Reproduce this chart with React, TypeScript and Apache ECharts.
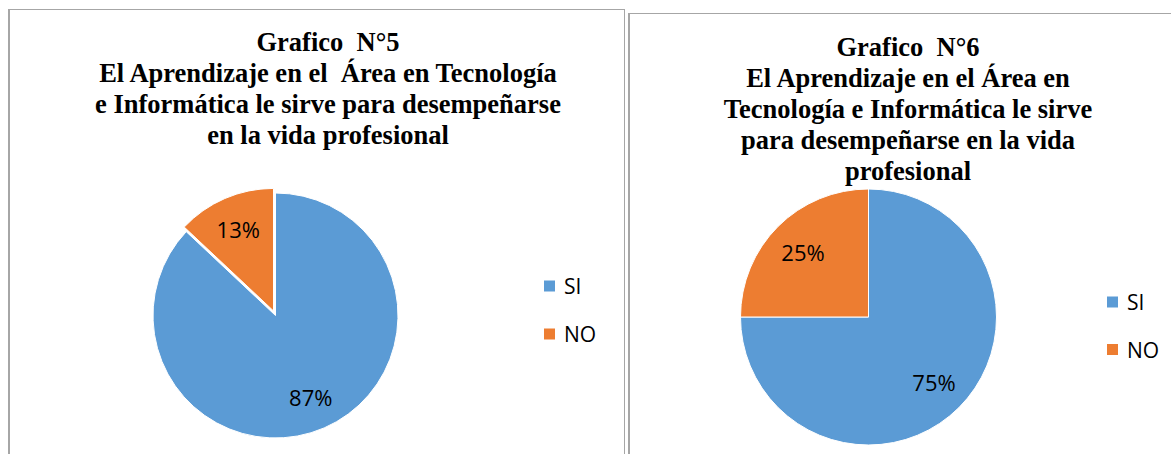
import React, { useEffect, useRef } from "react";
import * as echarts from "echarts";

const categories = ["SI", "NO"];
const chart5Values = [87, 13];
const chart6Values = [75, 25];
const title5 = "Grafico  N°5\nEl Aprendizaje en el  Área en Tecnología\ne Informática le sirve para desempeñarse\nen la vida profesional";
const title6 = "Grafico  N°6\nEl Aprendizaje en el Área en\nTecnología e Informática le sirve\npara desempeñarse en la vida\nprofesional";

const colors = ["#5B9BD5", "#ED7D31"];
const border = "#a6a6a6";

function buildData(values: number[], explodeNo: boolean) {
  return categories.map((name, i) => ({
    name,
    value: values[i],
    selected: explodeNo && name === "NO",
    itemStyle: { color: colors[i] },
  }));
}

function pieSeries(values: number[], center: number[], r: number, explodeNo: boolean) {
  return [
    {
      type: "pie",
      center,
      radius: r,
      startAngle: 90,
      clockwise: true,
      selectedMode: "multiple",
      selectedOffset: 5,
      silent: true,
      label: { show: false },
      labelLine: { show: false },
      itemStyle: { borderColor: "#ffffff", borderWidth: 1 },
      emphasis: { disabled: true },
      data: buildData(values, explodeNo),
    },
    {
      type: "pie",
      center,
      radius: [r * 0.4, r],
      startAngle: 90,
      clockwise: true,
      selectedMode: "multiple",
      selectedOffset: 5,
      silent: true,
      itemStyle: { color: "rgba(0,0,0,0)", borderWidth: 0 },
      labelLine: { show: false },
      label: {
        show: true,
        position: "inside",
        formatter: "{c}%",
        fontFamily: "Open Sans",
        fontSize: 22,
        color: "#000000",
      },
      emphasis: { disabled: true },
      data: categories.map((name, i) => ({
        name,
        value: values[i],
        selected: explodeNo && name === "NO",
        itemStyle: { color: "rgba(0,0,0,0)" },
      })),
    },
  ];
}

export default function App() {
  const ref = useRef<HTMLDivElement>(null);
  useEffect(() => {
    if (!ref.current) return;
    const chart = echarts.init(ref.current, null, { renderer: "svg" });
    const titleStyle = {
      fontFamily: "Liberation Serif",
      fontWeight: "bold" as const,
      fontSize: 26.5,
      lineHeight: 31,
      color: "#000000",
    };
    const legendCommon = {
      orient: "vertical" as const,
      icon: "rect",
      itemWidth: 13,
      itemHeight: 13,
      padding: 0,
      selectedMode: false,
      textStyle: {
        fontFamily: "Open Sans",
        fontSize: 21,
        color: "#000000",
        lineHeight: 22,
        padding: [0, 0, 0, 3],
      },
      data: categories,
    };
    chart.setOption({
      animation: false,
      backgroundColor: "#ffffff",
      title: [
        { text: title5, left: 328, top: 26, textAlign: "center", padding: 0, textStyle: titleStyle },
        { text: title6, left: 908, top: 31, textAlign: "center", padding: 0, textStyle: titleStyle },
      ],
      legend: [
        { ...legendCommon, left: 542, top: 275, itemGap: 26 },
        { ...legendCommon, left: 1105, top: 291, itemGap: 25.5 },
      ],
      graphic: [
        { type: "line", shape: { x1: 9, y1: 9, x2: 9, y2: 460 }, style: { stroke: border, lineWidth: 2 } },
        { type: "line", shape: { x1: 8, y1: 9.5, x2: 624.5, y2: 9.5 }, style: { stroke: border, lineWidth: 1 } },
        { type: "line", shape: { x1: 624.5, y1: 9, x2: 624.5, y2: 460 }, style: { stroke: border, lineWidth: 1 } },
        { type: "line", shape: { x1: 629, y1: 13, x2: 629, y2: 460 }, style: { stroke: border, lineWidth: 2 } },
        { type: "line", shape: { x1: 628, y1: 13.5, x2: 1175, y2: 13.5 }, style: { stroke: border, lineWidth: 1 } },
      ],
      series: [
        ...pieSeries(chart5Values, [275.5, 315.5], 122.5, true),
        ...pieSeries(chart6Values, [868.5, 317], 128, false),
      ],
    });
    return () => chart.dispose();
  }, []);
  return (
    <div
      ref={ref}
      style={{ position: "absolute", left: 0, top: 0, width: 1171, height: 454 }}
    />
  );
}
